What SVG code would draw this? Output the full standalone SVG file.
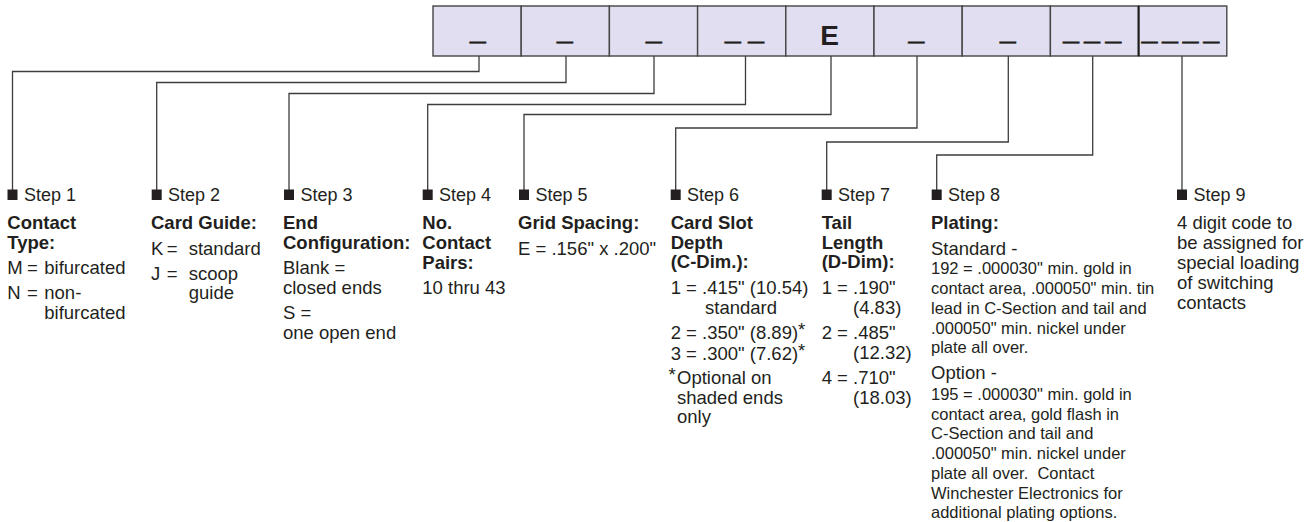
<svg xmlns="http://www.w3.org/2000/svg" width="1315" height="522" viewBox="0 0 1315 522">
<style>
text{font-family:"Liberation Sans",Arial,Helvetica,sans-serif;fill:#231f20}
.box{fill:#e0def0;stroke:#454545;stroke-width:1.4}
.code{font-size:28px;font-weight:bold}
.us{stroke:#231f20;stroke-width:0.9}
.step{font-size:18px}
.b{font-size:18.5px;font-weight:bold}
.r{font-size:18.5px}
.s{font-size:16.5px}
.sq{fill:#231f20}
.conn{fill:none;stroke:#3d3d3d;stroke-width:1.3}
</style>
<rect width="1315" height="522" fill="#ffffff"/>

<g id="code-boxes">
<g id="box1"><rect class="box" x="433" y="6" width="88.2" height="50"/><text class="code us" x="470" y="39.5">_</text></g>
<g id="box2"><rect class="box" x="521.2" y="6" width="88.2" height="50"/><text class="code us" x="557" y="39.5">_</text></g>
<g id="box3"><rect class="box" x="609.4" y="6" width="88.2" height="50"/><text class="code us" x="646" y="39.5">_</text></g>
<g id="box4"><rect class="box" x="697.6" y="6" width="88.2" height="50"/><text class="code us" x="725" y="39.5">_ _</text></g>
<g id="box5"><rect class="box" x="785.8" y="6" width="88.2" height="50"/><text class="code" x="829.5" y="45" text-anchor="middle">E</text></g>
<g id="box6"><rect class="box" x="874" y="6" width="88.2" height="50"/><text class="code us" x="908.5" y="39.5">_</text></g>
<g id="box7"><rect class="box" x="962.2" y="6" width="88.2" height="50"/><text class="code us" x="1000" y="39.5">_</text></g>
<g id="box8"><rect class="box" x="1050.4" y="6" width="88.2" height="50"/><text class="code us" x="1063.3" y="39.5" letter-spacing="5.5">___</text></g>
<g id="box9"><rect class="box" x="1138.6" y="6" width="88.2" height="50"/><text class="code us" x="1141.7" y="39.5" letter-spacing="5">____</text></g>
<line x1="1138.6" y1="6" x2="1138.6" y2="56" stroke="#1a1a1a" stroke-width="2"/>
</g>

<g id="connectors" class="conn">
<path d="M479,56 V71.5 H12.5 V190"/>
<path d="M566,56 V82.5 H156.7 V190"/>
<path d="M654,56 V93.5 H289 V190"/>
<path d="M745.5,56 V104.5 H427.7 V190"/>
<path d="M831,56 V114.5 H524 V190"/>
<path d="M917,56 V128 H675.7 V190"/>
<path d="M1008.3,56 V142 H826.7 V190"/>
<path d="M1092.7,56 V155 H936.7 V190"/>
<path d="M1182,56 V190"/>
</g>

<g id="step1">
<rect class="sq" x="7.5" y="189.5" width="10" height="10.5"/>
<text class="step" x="24" y="201">Step 1</text>
<text class="b" x="7.3" y="229">Contact</text>
<text class="b" x="7.3" y="249">Type:</text>
<text class="r" y="274"><tspan x="7.3">M</tspan><tspan x="27">=</tspan><tspan x="44.3">bifurcated</tspan></text>
<text class="r" y="299"><tspan x="7.3">N</tspan><tspan x="27">=</tspan><tspan x="44.3">non-</tspan></text>
<text class="r" x="44.3" y="319">bifurcated</text>
</g>

<g id="step2">
<rect class="sq" x="151.7" y="189.5" width="10" height="10.5"/>
<text class="step" x="168" y="201">Step 2</text>
<text class="b" x="151" y="229">Card Guide:</text>
<text class="r" y="255"><tspan x="151">K</tspan><tspan x="166.7">=</tspan><tspan x="188.7">standard</tspan></text>
<text class="r" y="279.5"><tspan x="151">J</tspan><tspan x="166.7">=</tspan><tspan x="188.7">scoop</tspan></text>
<text class="r" x="188.7" y="299">guide</text>
</g>

<g id="step3">
<rect class="sq" x="284" y="189.5" width="10" height="10.5"/>
<text class="step" x="300.5" y="201">Step 3</text>
<text class="b" x="283" y="229">End</text>
<text class="b" x="283" y="249">Configuration:</text>
<text class="r" x="283" y="274">Blank =</text>
<text class="r" x="283" y="294">closed ends</text>
<text class="r" x="283" y="319">S =</text>
<text class="r" x="283" y="339">one open end</text>
</g>

<g id="step4">
<rect class="sq" x="422.7" y="189.5" width="10" height="10.5"/>
<text class="step" x="439" y="201">Step 4</text>
<text class="b" x="422.3" y="229">No.</text>
<text class="b" x="422.3" y="249">Contact</text>
<text class="b" x="422.3" y="268.5">Pairs:</text>
<text class="r" x="422.3" y="294">10 thru 43</text>
</g>

<g id="step5">
<rect class="sq" x="519" y="189.5" width="10" height="10.5"/>
<text class="step" x="535.5" y="201">Step 5</text>
<text class="b" x="518" y="229">Grid Spacing:</text>
<text class="r" x="518" y="255">E = .156" x .200"</text>
</g>

<g id="step6">
<rect class="sq" x="670.7" y="189.5" width="10" height="10.5"/>
<text class="step" x="687" y="201">Step 6</text>
<text class="b" x="670.7" y="229">Card Slot</text>
<text class="b" x="670.7" y="249">Depth</text>
<text class="b" x="670.7" y="268">(C-Dim.):</text>
<text class="r" x="670.7" y="294">1 = .415" (10.54)</text>
<text class="r" x="705" y="313.5">standard</text>
<text class="r" x="670.7" y="339">2 = .350" (8.89)<tspan dy="-3">*</tspan></text>
<text class="r" x="670.7" y="359.5">3 = .300" (7.62)<tspan dy="-3">*</tspan></text>
<text class="r" y="384"><tspan x="668.5" dy="-3">*</tspan><tspan x="677" dy="3">Optional on</tspan></text>
<text class="r" x="677" y="403.5">shaded ends</text>
<text class="r" x="677" y="423">only</text>
</g>

<g id="step7">
<rect class="sq" x="821.7" y="189.5" width="10" height="10.5"/>
<text class="step" x="838" y="201">Step 7</text>
<text class="b" x="821.7" y="229">Tail</text>
<text class="b" x="821.7" y="249">Length</text>
<text class="b" x="821.7" y="268">(D-Dim):</text>
<text class="r" x="821.7" y="294">1 = .190"</text>
<text class="r" x="853" y="313.5">(4.83)</text>
<text class="r" x="821.7" y="339">2 = .485"</text>
<text class="r" x="853" y="358.5">(12.32)</text>
<text class="r" x="821.7" y="384">4 = .710"</text>
<text class="r" x="853" y="403.5">(18.03)</text>
</g>

<g id="step8">
<rect class="sq" x="931.7" y="189.5" width="10" height="10.5"/>
<text class="step" x="948" y="201">Step 8</text>
<text class="b" x="931" y="229">Plating:</text>
<text class="r" x="931" y="255">Standard -</text>
<text class="s" x="931" y="274">192 = .000030" min. gold in</text>
<text class="s" x="931" y="294">contact area, .000050" min. tin</text>
<text class="s" x="931" y="313.5">lead in C-Section and tail and</text>
<text class="s" x="931" y="334">.000050" min. nickel under</text>
<text class="s" x="931" y="353">plate all over.</text>
<text class="r" x="931" y="379">Option -</text>
<text class="s" x="931" y="400">195 = .000030" min. gold in</text>
<text class="s" x="931" y="419.7">contact area, gold flash in</text>
<text class="s" x="931" y="439.4">C-Section and tail and</text>
<text class="s" x="931" y="459.1">.000050" min. nickel under</text>
<text class="s" x="931" y="478.8" xml:space="preserve">plate all over.  Contact</text>
<text class="s" x="931" y="498.5">Winchester Electronics for</text>
<text class="s" x="931" y="518">additional plating options.</text>
</g>

<g id="step9">
<rect class="sq" x="1177" y="189.5" width="10" height="10.5"/>
<text class="step" x="1193.5" y="201">Step 9</text>
<text class="r" x="1177" y="229">4 digit code to</text>
<text class="r" x="1177" y="249">be assigned for</text>
<text class="r" x="1177" y="269">special loading</text>
<text class="r" x="1177" y="289">of switching</text>
<text class="r" x="1177" y="309">contacts</text>
</g>
</svg>
